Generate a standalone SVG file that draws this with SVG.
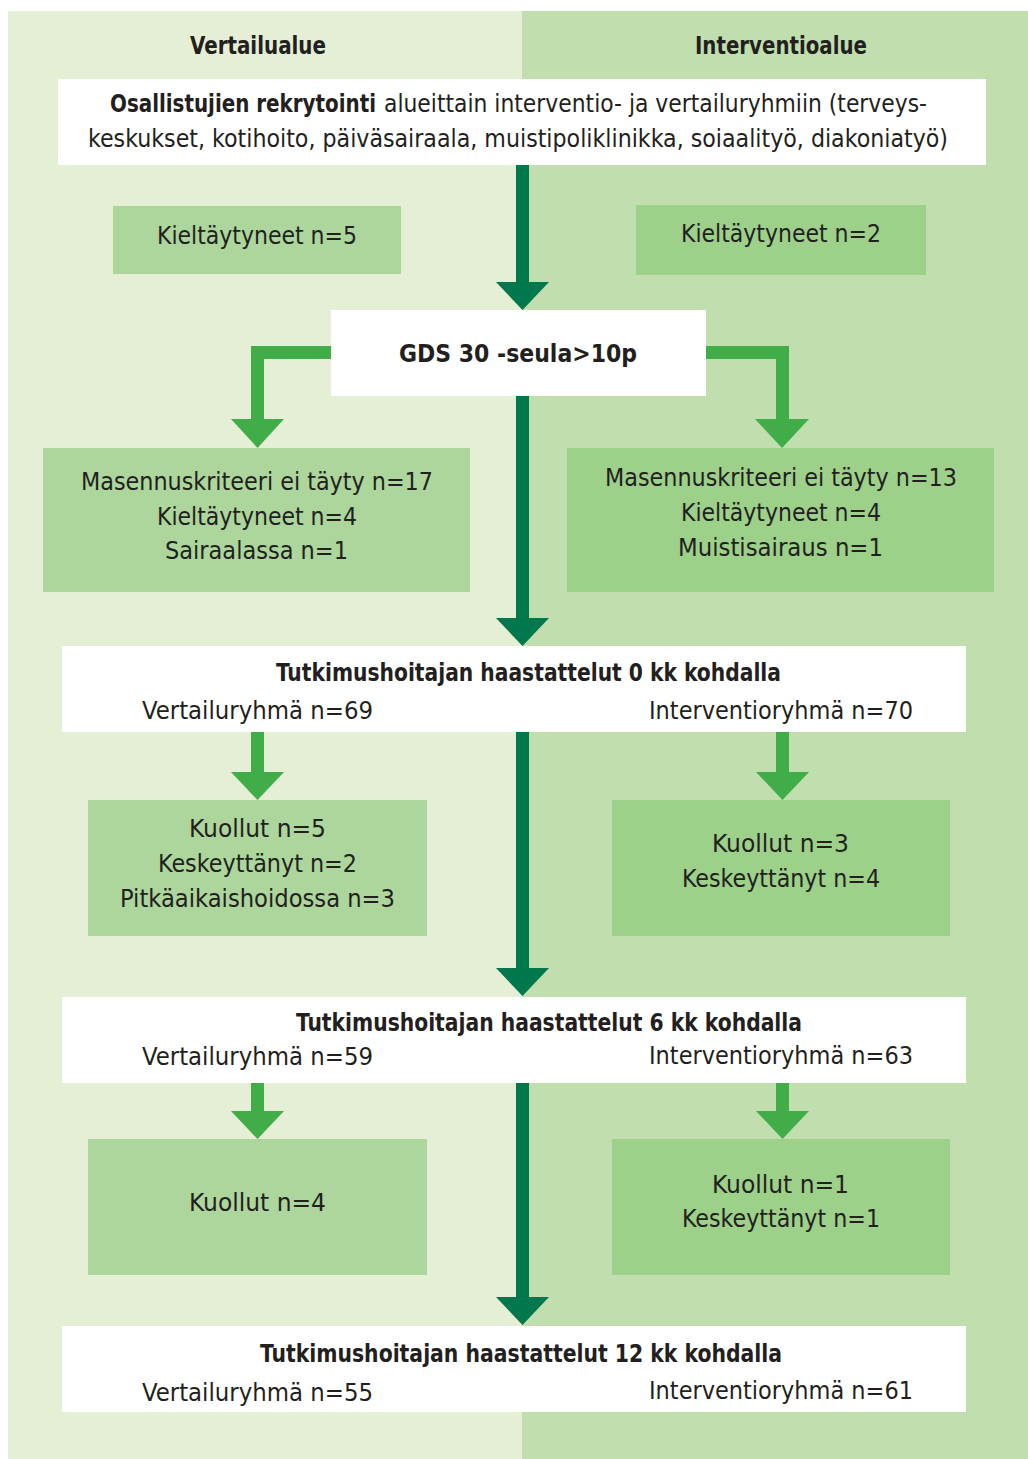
<svg xmlns="http://www.w3.org/2000/svg" width="1028" height="1459" viewBox="0 0 1028 1459">
<style>
text{font-family:"Liberation Sans Narrow","DejaVu Sans Condensed","Liberation Sans",sans-serif;fill:#231f20;font-size:24px;text-anchor:middle}
.b{font-weight:bold}
.l{text-anchor:start}
.w{fill:#ffffff}
.bl{fill:#acd69c}
.br{fill:#9dd089}
.dk{fill:#00784e}
.lt{fill:#41ad49}
</style>
<rect x="0" y="0" width="1028" height="1459" fill="#ffffff"/>
<rect x="8" y="11" width="514" height="1448" fill="#e4efd5"/>
<rect x="522" y="11" width="506" height="1448" fill="#c1dfae"/>
<text class="b" x="258" y="54" textLength="136" lengthAdjust="spacingAndGlyphs">Vertailualue</text>
<text class="b" x="781" y="54" textLength="172" lengthAdjust="spacingAndGlyphs">Interventioalue</text>
<g id="connectors">
<path class="dk" d="M516,165 H529 V282 H549 L522.5,310 L496,282 H516 Z"/>
<path class="dk" d="M516,396 H529 V618 H549 L522.5,646 L496,618 H516 Z"/>
<path class="dk" d="M516,732 H529 V968 H549 L522.5,996 L496,968 H516 Z"/>
<path class="dk" d="M516,1083 H529 V1297 H549 L522.5,1325 L496,1297 H516 Z"/>
<path class="lt" d="M331,346 H251 V419 H231 L257.5,448 L284,419 H264 V359 H331 Z"/>
<path class="lt" d="M706,346 H789 V419 H809 L782,448 L755,419 H776 V359 H706 Z"/>
<path class="lt" d="M251,732 H264 V772 H284 L257.5,800 L231,772 H251 Z"/>
<path class="lt" d="M776,732 H789 V772 H809 L782.5,800 L756,772 H776 Z"/>
<path class="lt" d="M251,1083 H264 V1111 H284 L257.5,1139 L231,1111 H251 Z"/>
<path class="lt" d="M776,1083 H789 V1111 H809 L782.5,1139 L756,1111 H776 Z"/>
</g>
<g id="recruit">
<rect class="w" x="58" y="79" width="928" height="86"/>
<text class="b l" x="110" y="112" textLength="266" lengthAdjust="spacingAndGlyphs">Osallistujien rekrytointi</text>
<text class="l" x="384" y="112" textLength="543" lengthAdjust="spacingAndGlyphs">alueittain interventio- ja vertailuryhmiin (terveys-</text>
<text x="518" y="147" textLength="860" lengthAdjust="spacingAndGlyphs">keskukset, kotihoito, päiväsairaala, muistipoliklinikka, soiaalityö, diakoniatyö)</text>
</g>
<g id="refused-left">
<rect class="bl" x="113" y="206" width="288" height="68"/>
<text x="257" y="244" textLength="200" lengthAdjust="spacingAndGlyphs">Kieltäytyneet n=5</text>
</g>
<g id="refused-right">
<rect class="br" x="636" y="205" width="290" height="70"/>
<text x="781" y="242" textLength="200" lengthAdjust="spacingAndGlyphs">Kieltäytyneet n=2</text>
</g>
<g id="gds">
<rect class="w" x="331" y="310" width="375" height="86"/>
<text class="b" x="518" y="362" textLength="238" lengthAdjust="spacingAndGlyphs">GDS 30 -seula&gt;10p</text>
</g>
<g id="excl-left">
<rect class="bl" x="43" y="448" width="427" height="144"/>
<text x="257" y="490" textLength="352" lengthAdjust="spacingAndGlyphs">Masennuskriteeri ei täyty n=17</text>
<text x="257" y="525" textLength="200" lengthAdjust="spacingAndGlyphs">Kieltäytyneet n=4</text>
<text x="256.5" y="559" textLength="183" lengthAdjust="spacingAndGlyphs">Sairaalassa n=1</text>
</g>
<g id="excl-right">
<rect class="br" x="567" y="448" width="427" height="144"/>
<text x="781" y="486" textLength="352" lengthAdjust="spacingAndGlyphs">Masennuskriteeri ei täyty n=13</text>
<text x="781" y="521" textLength="200" lengthAdjust="spacingAndGlyphs">Kieltäytyneet n=4</text>
<text x="780.5" y="556" textLength="205" lengthAdjust="spacingAndGlyphs">Muistisairaus n=1</text>
</g>
<g id="t0">
<rect class="w" x="62" y="646" width="904" height="86"/>
<text class="b" x="528.5" y="681" textLength="505" lengthAdjust="spacingAndGlyphs">Tutkimushoitajan haastattelut 0 kk kohdalla</text>
<text class="l" x="142" y="719" textLength="231" lengthAdjust="spacingAndGlyphs">Vertailuryhmä n=69</text>
<text class="l" x="649" y="719" textLength="264" lengthAdjust="spacingAndGlyphs">Interventioryhmä n=70</text>
</g>
<g id="drop0-left">
<rect class="bl" x="88" y="800" width="339" height="136"/>
<text x="257.5" y="837" textLength="137" lengthAdjust="spacingAndGlyphs">Kuollut n=5</text>
<text x="257.5" y="872" textLength="199" lengthAdjust="spacingAndGlyphs">Keskeyttänyt n=2</text>
<text x="257.5" y="907" textLength="275" lengthAdjust="spacingAndGlyphs">Pitkäaikaishoidossa n=3</text>
</g>
<g id="drop0-right">
<rect class="br" x="612" y="800" width="338" height="136"/>
<text x="780.5" y="852" textLength="137" lengthAdjust="spacingAndGlyphs">Kuollut n=3</text>
<text x="781" y="887" textLength="198" lengthAdjust="spacingAndGlyphs">Keskeyttänyt n=4</text>
</g>
<g id="t6">
<rect class="w" x="62" y="997" width="904" height="86"/>
<text class="b" x="549" y="1031" textLength="506" lengthAdjust="spacingAndGlyphs">Tutkimushoitajan haastattelut 6 kk kohdalla</text>
<text class="l" x="142" y="1065" textLength="231" lengthAdjust="spacingAndGlyphs">Vertailuryhmä n=59</text>
<text class="l" x="649" y="1064" textLength="264" lengthAdjust="spacingAndGlyphs">Interventioryhmä n=63</text>
</g>
<g id="drop6-left">
<rect class="bl" x="88" y="1139" width="339" height="136"/>
<text x="257.5" y="1211" textLength="137" lengthAdjust="spacingAndGlyphs">Kuollut n=4</text>
</g>
<g id="drop6-right">
<rect class="br" x="612" y="1139" width="338" height="136"/>
<text x="780.5" y="1193" textLength="137" lengthAdjust="spacingAndGlyphs">Kuollut n=1</text>
<text x="781" y="1227" textLength="198" lengthAdjust="spacingAndGlyphs">Keskeyttänyt n=1</text>
</g>
<g id="t12">
<rect class="w" x="62" y="1326" width="904" height="86"/>
<text class="b" x="521" y="1362" textLength="522" lengthAdjust="spacingAndGlyphs">Tutkimushoitajan haastattelut 12 kk kohdalla</text>
<text class="l" x="142" y="1401" textLength="231" lengthAdjust="spacingAndGlyphs">Vertailuryhmä n=55</text>
<text class="l" x="649" y="1399" textLength="264" lengthAdjust="spacingAndGlyphs">Interventioryhmä n=61</text>
</g>
</svg>
